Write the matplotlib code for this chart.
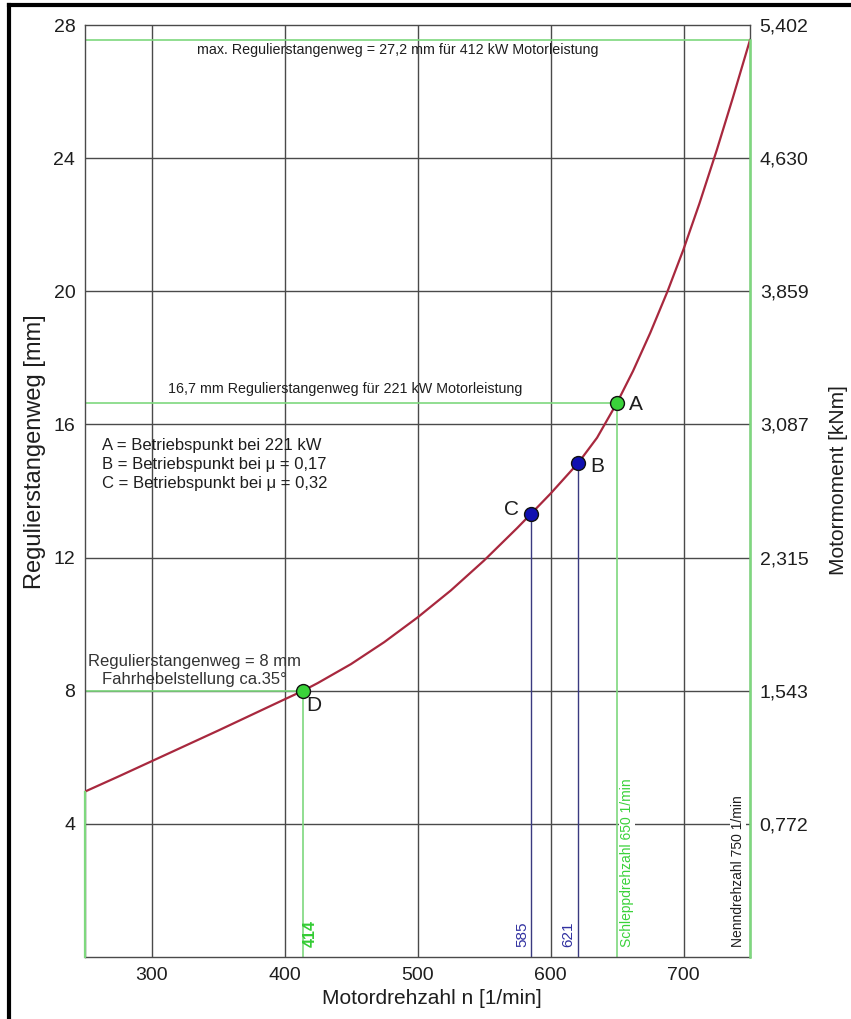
import numpy as np
import matplotlib
matplotlib.use('Agg')
import matplotlib.pyplot as plt
from matplotlib.lines import Line2D

plt.rcParams['font.family'] = ['Liberation Sans', 'DejaVu Sans']

# Kennlinie Regulierstangenweg ueber Motordrehzahl
n_curve = [250, 275, 300, 325, 350, 375, 400, 414, 425, 450, 475, 500, 525,
           550, 575, 585, 600, 621, 635, 650, 662, 675, 688, 700, 712, 725,
           737, 750]
s_curve = [4.97, 5.42, 5.88, 6.34, 6.8, 7.27, 7.74, 8.0, 8.23, 8.8, 9.46,
           10.2, 11.01, 11.91, 12.89, 13.3, 13.92, 14.85, 15.6, 16.65, 17.6,
           18.75, 20.0, 21.26, 22.64, 24.24, 25.8, 27.55]

# Betriebspunkte
pt_names = ['A', 'B', 'C', 'D']
pt_n = [650, 621, 585, 414]
pt_s = [16.65, 14.85, 13.3, 8.0]
pt_colors = ['#3ad23a', '#1010b0', '#1010b0', '#3ad23a']

x_ticks = [300, 400, 500, 600, 700]
y_ticks = [4, 8, 12, 16, 20, 24, 28]
right_labels = ['0,772', '1,543', '2,315', '3,087', '3,859', '4,630', '5,402']

legend_lines = ['A = Betriebspunkt bei 221 kW',
                'B = Betriebspunkt bei \u03bc = 0,17',
                'C = Betriebspunkt bei \u03bc = 0,32']

W, H = 851, 1019
fig = plt.figure(figsize=(W / 100, H / 100), dpi=100)
fig.patch.set_facecolor('white')
ax = fig.add_axes([85 / W, (H - 957) / H, 665 / W, 932 / H])

green = '#7ed87e'
grid_c = '#4a4a4a'
blue_l = '#3a3a80'
txt = '#1e1e1e'

ax.set_xlim(250, 750)
ax.set_ylim(0, 28)

# Gitter
for x in x_ticks:
    ax.axvline(x, color=grid_c, lw=1.0, zorder=1)
for y in y_ticks[:-1]:
    ax.axhline(y, color=grid_c, lw=1.0, zorder=1)
for sp in ax.spines.values():
    sp.set_color(grid_c)
    sp.set_linewidth(1.0)

# gruene Hilfslinien
ax.plot([250, 750], [27.55, 27.55], color=green, lw=1.2, zorder=2)
ax.plot([250, 650], [16.65, 16.65], color=green, lw=1.2, zorder=2)
ax.plot([250, 414], [8, 8], color=green, lw=1.2, zorder=2)
ax.plot([250, 250], [0, s_curve[0]], color=green, lw=1.6, zorder=6, clip_on=False)
ax.plot([414, 414], [0, 8], color=green, lw=1.2, zorder=2)
ax.plot([650, 650], [0, 16.65], color=green, lw=1.2, zorder=2)
ax.plot([750, 750], [0, 27.55], color=green, lw=1.8, zorder=6, clip_on=False)

# blaue Hilfslinien
ax.plot([585, 585], [0, 13.3], color=blue_l, lw=1.0, zorder=2)
ax.plot([621, 621], [0, 14.85], color=blue_l, lw=1.0, zorder=2)

# Kennlinie
ax.plot(n_curve, s_curve, color='#a8283e', lw=1.6, zorder=3)

# Punkte
for nm, x, y, c in zip(pt_names, pt_n, pt_s, pt_colors):
    ax.plot(x, y, 'o', ms=10, mfc=c, mec='#111111', mew=1.0, zorder=4)
ax.text(659, 16.6, 'A', fontsize=15, va='center', ha='left', color=txt)
ax.text(630, 14.75, 'B', fontsize=15, va='center', ha='left', color=txt)
ax.text(576, 13.45, 'C', fontsize=15, va='center', ha='right', color=txt)
ax.text(416, 7.85, 'D', fontsize=15, va='top', ha='left', color=txt)

# Beschriftungen im Diagramm
ax.text(485, 27.25, 'max. Regulierstangenweg = 27,2 mm f\u00fcr 412 kW Motorleistung',
        fontsize=10.3, ha='center', va='center', color=txt)
ax.text(446, 17.05, '16,7 mm Regulierstangenweg f\u00fcr 221 kW Motorleistung',
        fontsize=10.3, ha='center', va='center', color=txt)
ax.text(263, 14.8, '\n'.join(legend_lines), fontsize=12, ha='left', va='center',
        color=txt, linespacing=1.35)
ax.text(332, 8.6, 'Regulierstangenweg = 8 mm\nFahrhebelstellung ca.35\u00b0',
        fontsize=12, ha='center', va='center', color='#333333', linespacing=1.25)

# senkrechte Beschriftungen unten
ax.text(419.5, 0.3, '414', rotation=90, fontsize=11.5, ha='center', va='bottom',
        color='#33cc33', fontweight='bold')
ax.text(578.5, 0.3, '585', rotation=90, fontsize=11, ha='center', va='bottom',
        color='#3030a0')
ax.text(613.5, 0.3, '621', rotation=90, fontsize=11, ha='center', va='bottom',
        color='#3030a0')
ax.text(657.5, 0.3, 'Schleppdrehzahl 650 1/min', rotation=90, fontsize=10,
        ha='center', va='bottom', color='#3ad23a',
        bbox=dict(facecolor='white', edgecolor='none', pad=1))
ax.text(741, 0.3, 'Nenndrehzahl 750 1/min', rotation=90, fontsize=10,
        ha='center', va='bottom', color=txt,
        bbox=dict(facecolor='white', edgecolor='none', pad=1))

# Achsen
ax.set_xticks(x_ticks)
ax.set_yticks(y_ticks)
ax.tick_params(length=0, labelsize=14, pad=7, colors=txt)
fig.text(432 / W, 1 - 998 / H, 'Motordrehzahl n [1/min]', fontsize=15,
         ha='center', va='center', color=txt)
fig.text(35 / W, 1 - 452 / H, 'Regulierstangenweg [mm]', rotation=90,
         fontsize=17, ha='center', va='center', color=txt)

ax2 = ax.twinx()
ax2.set_ylim(0, 28)
ax2.set_yticks(y_ticks)
ax2.set_yticklabels(right_labels)
ax2.tick_params(length=0, labelsize=14, pad=7, colors=txt)
for sp in ax2.spines.values():
    sp.set_visible(False)
fig.text(838 / W, 1 - 480 / H, 'Motormoment [kNm]', rotation=90, fontsize=15,
         ha='center', va='center', color=txt)

# Rahmen des Bildes
fig.add_artist(Line2D([9 / W, 9 / W], [0, 1 - 5 / H], color='black', lw=3,
                      transform=fig.transFigure))
fig.add_artist(Line2D([9 / W, 1], [1 - 5 / H, 1 - 5 / H], color='black', lw=3,
                      transform=fig.transFigure))

fig.savefig('out.png', dpi=100)
